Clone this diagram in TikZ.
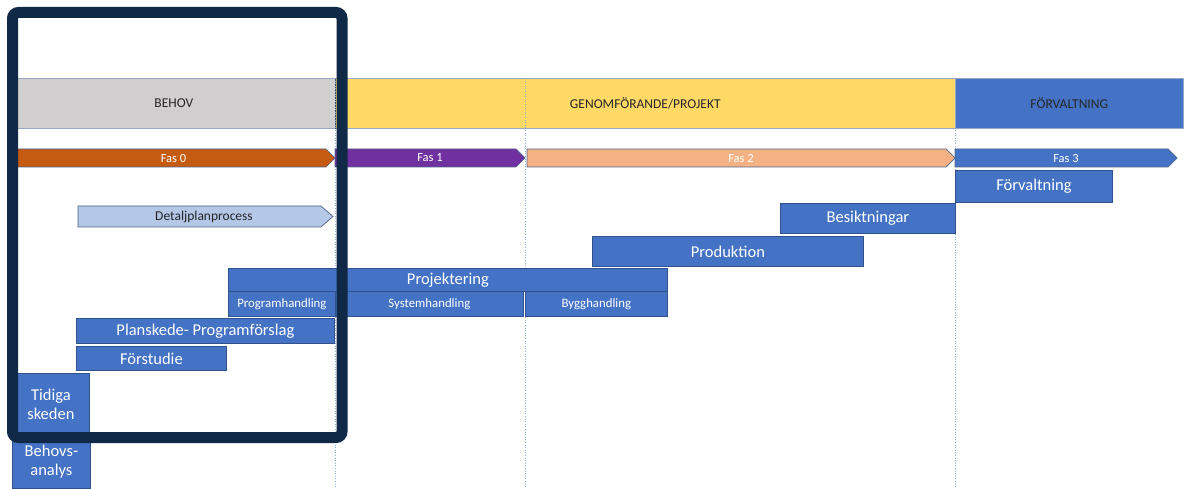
\documentclass[tikz,border=0pt]{standalone}
\usepackage{fontspec}
\setmainfont{Carlito}
\definecolor{frameblue}{RGB}{16,41,71}
\definecolor{boxblue}{RGB}{68,114,196}
\definecolor{boxline}{RGB}{47,82,143}
\definecolor{behovgray}{RGB}{208,206,206}
\definecolor{projyellow}{RGB}{255,217,102}
\definecolor{fasorange}{RGB}{197,90,17}
\definecolor{faspurple}{RGB}{112,48,160}
\definecolor{faspeach}{RGB}{244,177,131}
\definecolor{planblue}{RGB}{180,199,231}
\definecolor{gridblue}{RGB}{143,170,220}
\tikzset{
  task/.style={draw=boxline, fill=boxblue, text=white, inner sep=0pt,
    anchor=north west, align=center, line width=0.8pt,
    font=\fontsize{16.5}{19}\selectfont},
  subtask/.style={task, font=\fontsize{12.8}{14}\selectfont},
  band/.style={draw=boxline!50, line width=0.6pt, inner sep=0pt,
    anchor=north west, minimum height=50, text=black!85,
    font=\fontsize{13.5}{15}\selectfont},
  fas/.style={draw=boxline!60!gray, line width=0.7pt},
  faslabel/.style={font=\fontsize{12.5}{14}\selectfont, text=white},
  grid/.style={draw=gridblue, dotted, line width=0.6pt},
}
\begin{document}
\begin{tikzpicture}[x=1pt,y=-1pt]
    \useasboundingbox (0,0) rectangle (1187,489);
    %% header bands
    \node[band, fill=behovgray, minimum width=323] (behov) at (12,78) {BEHOV};
    \node[band, fill=projyellow, minimum width=620] (genom) at (335,78) {GENOMFÖRANDE/PROJEKT};
    \node[band, fill=boxblue, minimum width=228] (forvhead) at (955,78) {FÖRVALTNING};
    \draw[frameblue!60!gray, line width=1.5pt] (behov.north east) -- (behov.south east);
    %% phase borders
    \foreach \x in {335,525,955}
        \draw[grid] (\x,78) -- (\x,489);
    %% phases
    \foreach \n/\x/\tip/\c/\t in {fas0/12/335/fasorange/Fas 0,fas1/335/525/faspurple/Fas 1,
                                 fas2/527/955/faspeach/Fas 2,fas3/955/1177/boxblue/Fas 3} {
        \draw[fas, fill=\c] (\x,149) -- (\tip-9,149) -- (\tip,158) -- (\tip-9,167) -- (\x,167) -- cycle;
        \node[faslabel] (\n) at ({(\x+\tip)/2},158) {\t};
    }
    \draw[fas, fill=planblue] (78,206) -- (321,206) -- (333,216.5) -- (321,227) -- (78,227) -- cycle;
    \node[faslabel, text=black!85, font=\fontsize{13.5}{15}\selectfont] (detalj) at (204,216.5) {Detaljplanprocess};
    %% activities
    \foreach \n/\x/\y/\w/\h/\t in {forv/955/170/157/32/Förvaltning,
                                   besikt/780/203/175/30/Besiktningar,
                                   prod/592/236/271/30/Produktion,
                                   proj/228/268/439/23/Projektering,
                                   plan/76/318/258/25/Planskede- Programförslag,
                                   forst/76/346/150/24/Förstudie,
                                   tidiga/12/373/77/61/{Tidiga\\skeden},
                                   behovs/12/434/78/54/{Behovs-\\analys}}
        \node[task, minimum width=\w, minimum height=\h] (\n) at (\x,\y) {\t};
    \foreach \n/\x/\w/\t in {progh/228/107/Programhandling,
                             systh/335/188/Systemhandling,
                             byggh/525/142/Bygghandling}
        \node[subtask, minimum width=\w, minimum height=25] (\n) at (\x,291) {\t};
    %% focus frame
    \draw[frameblue, line width=11pt, rounded corners=6pt] (12.5,12.5) rectangle (342,437.5);
\end{tikzpicture}
\end{document}
